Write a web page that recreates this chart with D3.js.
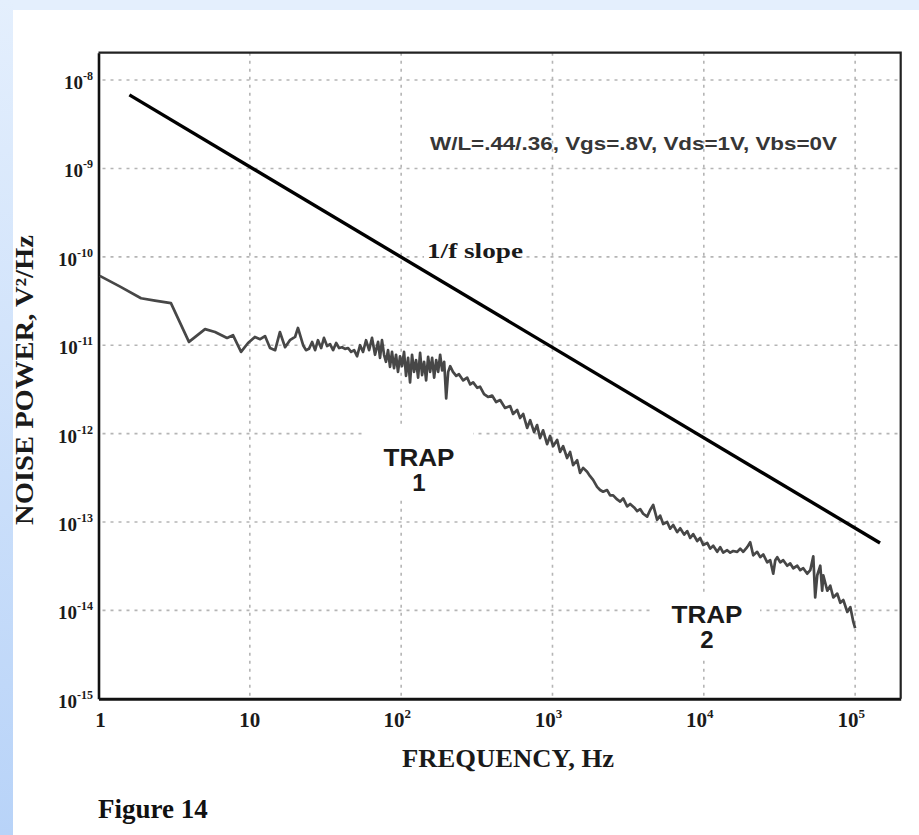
<!DOCTYPE html>
<html><head><meta charset="utf-8">
<script src="https://cdn.jsdelivr.net/npm/d3@7"></script>
<style>html,body{margin:0;padding:0;background:#fff;}svg{display:block}</style>
</head><body>
<svg id="chart" width="919" height="835"></svg>
<script>
// ---------- data ----------
const xTickValues = [1, 10, 100, 1000, 10000, 100000];
const xTickBase = ["1", "10", "10", "10", "10", "10"];
const xTickSup = ["", "", "2", "3", "4", "5"];
const yTickValues = [1e-8, 1e-9, 1e-10, 1e-11, 1e-12, 1e-13, 1e-14, 1e-15];
const yTickSup = ["-8", "-9", "-10", "-11", "-12", "-13", "-14", "-15"];

// 1/f reference slope
const slopeFreq = [1.6, 146000];
const slopePower = [6.8e-9, 5.8e-14];

// measured noise spectrum (Hz, V^2/Hz)
const noiseFreq = [
  1.02, 1.39, 1.91, 2.36, 3.01, 3.96, 5.06, 5.89, 7.07, 7.74, 8.75, 9.73, 10.8, 11.7, 12.6, 13.6, 14.7, 15.8, 17.1, 18.4,
  19.9, 20.8, 22.5, 23.5, 24.6, 25.8, 27.0, 28.2, 29.6, 30.9, 32.4, 33.9, 35.5, 37.2, 38.9, 40.7, 42.6, 44.6, 46.7, 48.9,
  51.1, 53.5, 56.0, 58.6, 61.4, 64.2, 67.2, 70.4, 72.5, 74.7, 77.1, 79.4, 81.9, 84.4, 87.0, 89.7, 92.5, 95.3, 98.3, 101.3,
  104.5, 107.7, 111.1, 114.5, 118, 121.7, 125.5, 129.4, 133.4, 137.5, 141.8, 146.2, 150.7, 155.4, 160.2, 165.2, 170.3, 175.6, 181, 186.6,
  192.4, 198.4, 204.5, 210.8, 220, 231, 241, 257, 273, 286, 299, 318, 332, 353, 375, 399, 424, 451, 486, 525,
  549, 584, 611, 640, 680, 712, 756, 791, 828, 867, 921, 964, 1010, 1073, 1123, 1176, 1249, 1307, 1369, 1455,
  1522, 1594, 1693, 1772, 1855, 1971, 2064, 2160, 2296, 2404, 2517, 2674, 2800, 2931, 3114, 3260, 3463, 3626, 3796, 3974,
  4222, 4420, 4628, 4917, 5148, 5389, 5726, 5994, 6276, 6668, 6981, 7417, 7765, 8129, 8511, 9042, 9466, 9910, 10530, 11020,
  11540, 12260, 12830, 13430, 14270, 14940, 15640, 16620, 17400, 18210, 19350, 20260, 21210, 22530, 23590, 24700, 26240, 27470, 28760, 29660,
  30560, 31990, 33490, 35580, 37250, 39000, 41440, 43380, 45420, 48250, 50520, 52890, 54450, 56190, 58830, 60550, 61590, 65440, 68510, 71720,
  76200, 79780, 83520, 88740, 92900, 97260, 100000
];
const noisePower = [
  6.1e-11, 4.6e-11, 3.4e-11, 3.2e-11, 3.0e-11, 1.09e-11, 1.52e-11, 1.41e-11, 1.21e-11, 1.30e-11, 8.4e-12, 1.06e-11, 1.24e-11, 1.17e-11, 1.27e-11, 9.3e-12, 8.8e-12, 1.41e-11, 9.5e-12, 1.14e-11,
  1.24e-11, 1.57e-11, 1.0e-11, 8.8e-12, 9.1e-12, 1.09e-11, 8.8e-12, 1.14e-11, 9.3e-12, 1.21e-11, 9.8e-12, 1.03e-11, 8.8e-12, 1.06e-11, 9.3e-12, 9.5e-12, 9.1e-12, 9.3e-12, 8.4e-12, 8.8e-12,
  7.5e-12, 1.0e-11, 8.4e-12, 1.14e-11, 8.8e-12, 1.21e-11, 7.8e-12, 1.09e-11, 7.2e-12, 1.14e-11, 7.8e-12, 6.5e-12, 8.8e-12, 5.7e-12, 8.4e-12, 5.5e-12, 7.8e-12, 5.0e-12, 7.5e-12, 5.8e-12,
  8.4e-12, 4.5e-12, 7.2e-12, 3.8e-12, 7.8e-12, 5.0e-12, 6.8e-12, 4.3e-12, 8.2e-12, 4.6e-12, 6.5e-12, 4.0e-12, 7.4e-12, 5.0e-12, 7.2e-12, 4.3e-12, 6.8e-12, 5.0e-12, 7.8e-12, 5.2e-12,
  6.5e-12, 2.5e-12, 5.0e-12, 5.8e-12, 5.0e-12, 4.5e-12, 4.7e-12, 4.0e-12, 4.3e-12, 3.6e-12, 3.8e-12, 3.3e-12, 3.4e-12, 2.8e-12, 2.6e-12, 2.7e-12, 2.28e-12, 2.4e-12, 1.95e-12, 2.05e-12,
  1.67e-12, 1.85e-12, 1.5e-12, 1.67e-12, 1.16e-12, 1.42e-12, 1.04e-12, 1.25e-12, 8.9e-13, 1.09e-12, 7.6e-13, 9.4e-13, 7.2e-13, 8.5e-13, 6.2e-13, 7.2e-13, 5.3e-13, 6.2e-13, 4.4e-13, 5.0e-13,
  3.6e-13, 4.1e-13, 3.7e-13, 3.3e-13, 3.0e-13, 2.5e-13, 2.3e-13, 2.2e-13, 2.3e-13, 2.0e-13, 2.0e-13, 1.8e-13, 1.7e-13, 1.85e-13, 1.5e-13, 1.6e-13, 1.46e-13, 1.33e-13, 1.4e-13, 1.24e-13,
  1.15e-13, 1.37e-13, 1.56e-13, 1.06e-13, 1.18e-13, 9.5e-14, 1.0e-13, 8.4e-14, 9.25e-14, 7.7e-14, 8.5e-14, 7.2e-14, 7.9e-14, 6.6e-14, 7.3e-14, 6.1e-14, 6.6e-14, 5.5e-14, 5.8e-14, 5.0e-14,
  5.4e-14, 4.6e-14, 5.2e-14, 4.5e-14, 4.8e-14, 4.5e-14, 4.7e-14, 4.6e-14, 5.0e-14, 4.6e-14, 5.2e-14, 5.9e-14, 4.2e-14, 4.6e-14, 4.0e-14, 4.3e-14, 3.5e-14, 3.7e-14, 2.6e-14, 3.7e-14,
  4.0e-14, 3.5e-14, 3.7e-14, 3.2e-14, 3.4e-14, 3.0e-14, 3.2e-14, 2.85e-14, 3.0e-14, 2.6e-14, 2.85e-14, 4.1e-14, 1.4e-14, 2.5e-14, 3.2e-14, 1.67e-14, 2.5e-14, 1.67e-14, 1.9e-14, 1.4e-14,
  1.55e-14, 1.22e-14, 1.31e-14, 9.6e-15, 1.09e-14, 7.4e-15, 6.3e-15
];

const xTitle = "FREQUENCY, Hz";
const yTitle = "NOISE POWER, V\u00B2/Hz";
const conditionText = "W/L=.44/.36, Vgs=.8V, Vds=1V, Vbs=0V";
const slopeText = "1/f slope";
const trapTexts = [["TRAP", "1"], ["TRAP", "2"]];
const figureText = "Figure 14";

// ---------- drawing ----------
const SERIF = "'Liberation Serif','Times New Roman',serif";
const SANS = "'Liberation Sans',Arial,sans-serif";
const svg = d3.select("#chart");

const defs = svg.append("defs");
const lg = defs.append("linearGradient").attr("id", "leftGrad").attr("x1", 0).attr("y1", 0).attr("x2", 0).attr("y2", 1);
lg.append("stop").attr("offset", "0%").attr("stop-color", "#e4effd");
lg.append("stop").attr("offset", "100%").attr("stop-color", "#b8d3f8");
svg.append("rect").attr("x", 0).attr("y", 0).attr("width", 919).attr("height", 835).attr("fill", "#ffffff");
svg.append("rect").attr("x", 0).attr("y", 0).attr("width", 919).attr("height", 10).attr("fill", "#e4effd");
svg.append("rect").attr("x", 0).attr("y", 0).attr("width", 13).attr("height", 835).attr("fill", "url(#leftGrad)");

const L = 98.5, R = 900.7, T = 52.7, B = 698.8;
const x = d3.scaleLog().domain([1, 2e5]).range([L, R]);
const y = d3.scaleLog().domain([1e-15, 2.04e-8]).range([B, T]);

// grid
const grid = svg.append("g").attr("stroke", "#b5b5b5").attr("stroke-width", 1.6).attr("stroke-dasharray", "3,5");
grid.selectAll("line.h").data(yTickValues.filter(v => v > 1e-15)).join("line")
  .attr("x1", L + 4).attr("x2", R).attr("y1", d => y(d)).attr("y2", d => y(d));
grid.selectAll("line.v").data(xTickValues.filter(v => v > 1)).join("line")
  .attr("x1", d => x(d)).attr("x2", d => x(d)).attr("y1", T).attr("y2", B);

// white label backgrounds (cover grid like the original pasted labels)
const bg = svg.append("g").attr("fill", "#fff");
bg.append("rect").attr("x", 363).attr("y", 424).attr("width", 110).attr("height", 72);
bg.append("rect").attr("x", 653).attr("y", 592).attr("width", 107).attr("height", 64);
bg.append("rect").attr("x", 424).attr("y", 240).attr("width", 102).attr("height", 24);

// axes
const xAxis = d3.axisBottom(x).tickValues(xTickValues).tickSize(0).tickFormat("");
const yAxis = d3.axisLeft(y).tickValues(yTickValues).tickSize(0).tickFormat("");
svg.append("g").attr("transform", `translate(0,${B})`).call(xAxis)
  .call(g => g.select(".domain").attr("stroke", "#111").attr("stroke-width", 3));
svg.append("g").attr("transform", `translate(${L},0)`).call(yAxis)
  .call(g => g.select(".domain").attr("stroke", "#111").attr("stroke-width", 2.6));
svg.append("path").attr("d", `M${L},${T}H${R}V${B}`).attr("fill", "none").attr("stroke", "#222").attr("stroke-width", 2.2);

// x tick labels
const xl = svg.append("g").attr("font-family", SERIF).attr("font-weight", "bold").attr("fill", "#1a1a1a");
xTickValues.forEach((v, i) => {
  const t = xl.append("text").attr("x", x(v) + (xTickSup[i] ? -4 : 0) + (i === 0 ? 2 : 0)).attr("y", B + 28)
    .attr("text-anchor", "middle").attr("font-size", 21);
  t.append("tspan").text(xTickBase[i]);
  if (xTickSup[i]) t.append("tspan").attr("font-size", 13).attr("dy", -9).text(xTickSup[i]);
});

// y tick labels
const yl = svg.append("g").attr("font-family", SERIF).attr("font-weight", "bold").attr("fill", "#1a1a1a");
yTickValues.forEach((v, i) => {
  const t = yl.append("text").attr("x", 93).attr("y", y(v) + 9).attr("text-anchor", "end").attr("font-size", 19);
  t.append("tspan").text("10");
  t.append("tspan").attr("font-size", 12).attr("dy", -9).text(yTickSup[i]);
});

// lines
const line = d3.line().x(d => x(d[0])).y(d => y(d[1]));
svg.append("path").datum(noiseFreq.map((f, i) => [f, noisePower[i]]))
  .attr("d", line).attr("fill", "none").attr("stroke", "#474747").attr("stroke-width", 2.7)
  .attr("stroke-linejoin", "round");
svg.append("path").datum(slopeFreq.map((f, i) => [f, slopePower[i]]))
  .attr("d", line).attr("fill", "none").attr("stroke", "#000").attr("stroke-width", 3.4);

// titles
svg.append("text").attr("x", 508).attr("y", 767).attr("text-anchor", "middle")
  .attr("font-family", SERIF).attr("font-weight", "bold").attr("font-size", 25).attr("fill", "#1a1a1a")
  .attr("textLength", 212).attr("lengthAdjust", "spacingAndGlyphs").text(xTitle);
svg.append("text").attr("transform", "translate(33,380) rotate(-90)").attr("text-anchor", "middle")
  .attr("font-family", SERIF).attr("font-weight", "bold").attr("font-size", 25).attr("fill", "#1a1a1a")
  .attr("textLength", 290).attr("lengthAdjust", "spacingAndGlyphs").text(yTitle);

// annotations
svg.append("text").attr("x", 430).attr("y", 150).attr("font-family", SANS).attr("font-weight", "bold")
  .attr("font-size", 18).attr("fill", "#363636").attr("textLength", 407).attr("lengthAdjust", "spacingAndGlyphs")
  .text(conditionText);
svg.append("text").attr("x", 427).attr("y", 258).attr("font-family", SERIF).attr("font-weight", "bold")
  .attr("font-size", 22).attr("fill", "#1a1a1a").attr("textLength", 96).attr("lengthAdjust", "spacingAndGlyphs")
  .text(slopeText);
const trapPos = [[419, 466, 491], [707, 623, 648]];
trapTexts.forEach((tt, i) => {
  const g = svg.append("g").attr("font-family", SANS).attr("font-weight", "bold").attr("font-size", 24)
    .attr("fill", "#1a1a1a").attr("text-anchor", "middle");
  g.append("text").attr("x", trapPos[i][0]).attr("y", trapPos[i][1]).attr("textLength", 71)
    .attr("lengthAdjust", "spacingAndGlyphs").text(tt[0]);
  g.append("text").attr("x", trapPos[i][0]).attr("y", trapPos[i][2]).text(tt[1]);
});
svg.append("text").attr("x", 98).attr("y", 818).attr("font-family", SERIF).attr("font-weight", "bold")
  .attr("font-size", 27).attr("fill", "#111").text(figureText);
</script>
</body></html>
